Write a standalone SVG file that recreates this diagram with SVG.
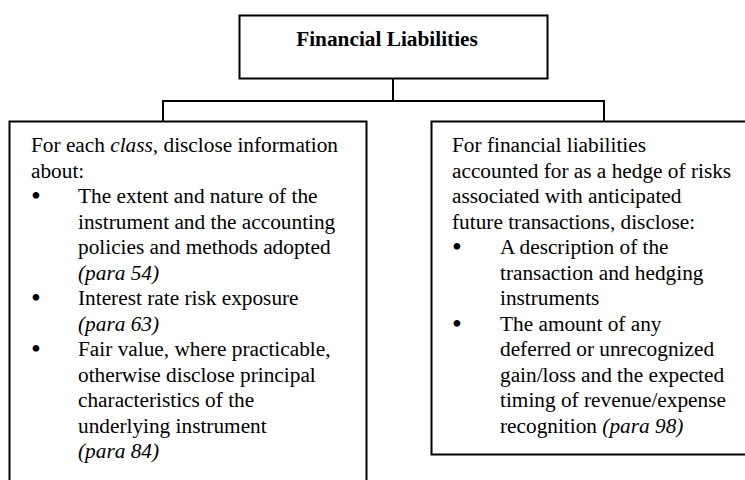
<svg xmlns="http://www.w3.org/2000/svg" width="745" height="480" viewBox="0 0 745 480">
<style>
.box{fill:#fff;stroke:#000;stroke-width:2}
.ln{fill:none;stroke:#000;stroke-width:2}
text{font-family:"Liberation Serif","Times New Roman",serif;font-size:21.3px;fill:#000}
.t{font-weight:bold;text-anchor:middle}
.i{font-style:italic}
.b{text-anchor:middle;font-size:28px}
</style>
<rect width="745" height="480" fill="#fff"/>
<g id="connectors">
<path class="ln" d="M393,78 V101 M163,101 H604 M163,100 V121 M604,100 V121"/>
</g>
<g id="top">
<rect class="box" x="239.5" y="15.5" width="308" height="63"/>
<text class="t" x="387" y="46">Financial Liabilities</text>
</g>
<g id="left">
<rect class="box" x="9.5" y="121.5" width="357" height="400"/>
<text x="31" y="152">For each <tspan class="i">class</tspan>, disclose information</text>
<text x="31" y="177.5">about:</text>
<text class="b" x="36" y="205">•</text>
<text x="78" y="203">The extent and nature of the</text>
<text x="78" y="228.5">instrument and the accounting</text>
<text x="78" y="254">policies and methods adopted</text>
<text class="i" x="78" y="279.5">(para 54)</text>
<text class="b" x="36" y="307">•</text>
<text x="78" y="305">Interest rate risk exposure</text>
<text class="i" x="78" y="330.5">(para 63)</text>
<text class="b" x="36" y="358">•</text>
<text x="78" y="356">Fair value, where practicable,</text>
<text x="78" y="381.5">otherwise disclose principal</text>
<text x="78" y="407">characteristics of the</text>
<text x="78" y="432.5">underlying instrument</text>
<text class="i" x="78" y="458">(para 84)</text>
</g>
<g id="right">
<rect class="box" x="431.5" y="121.5" width="360" height="333"/>
<text x="452" y="152">For financial liabilities</text>
<text x="452" y="177.5">accounted for as a hedge of risks</text>
<text x="452" y="203">associated with anticipated</text>
<text x="452" y="228.5">future transactions, disclose:</text>
<text class="b" x="457" y="256">•</text>
<text x="500" y="254">A description of the</text>
<text x="500" y="279.5">transaction and hedging</text>
<text x="500" y="305">instruments</text>
<text class="b" x="457" y="332.5">•</text>
<text x="500" y="330.5">The amount of any</text>
<text x="500" y="356">deferred or unrecognized</text>
<text x="500" y="381.5">gain/loss and the expected</text>
<text x="500" y="407">timing of revenue/expense</text>
<text x="500" y="432.5">recognition <tspan class="i">(para 98)</tspan></text>
</g>
</svg>
